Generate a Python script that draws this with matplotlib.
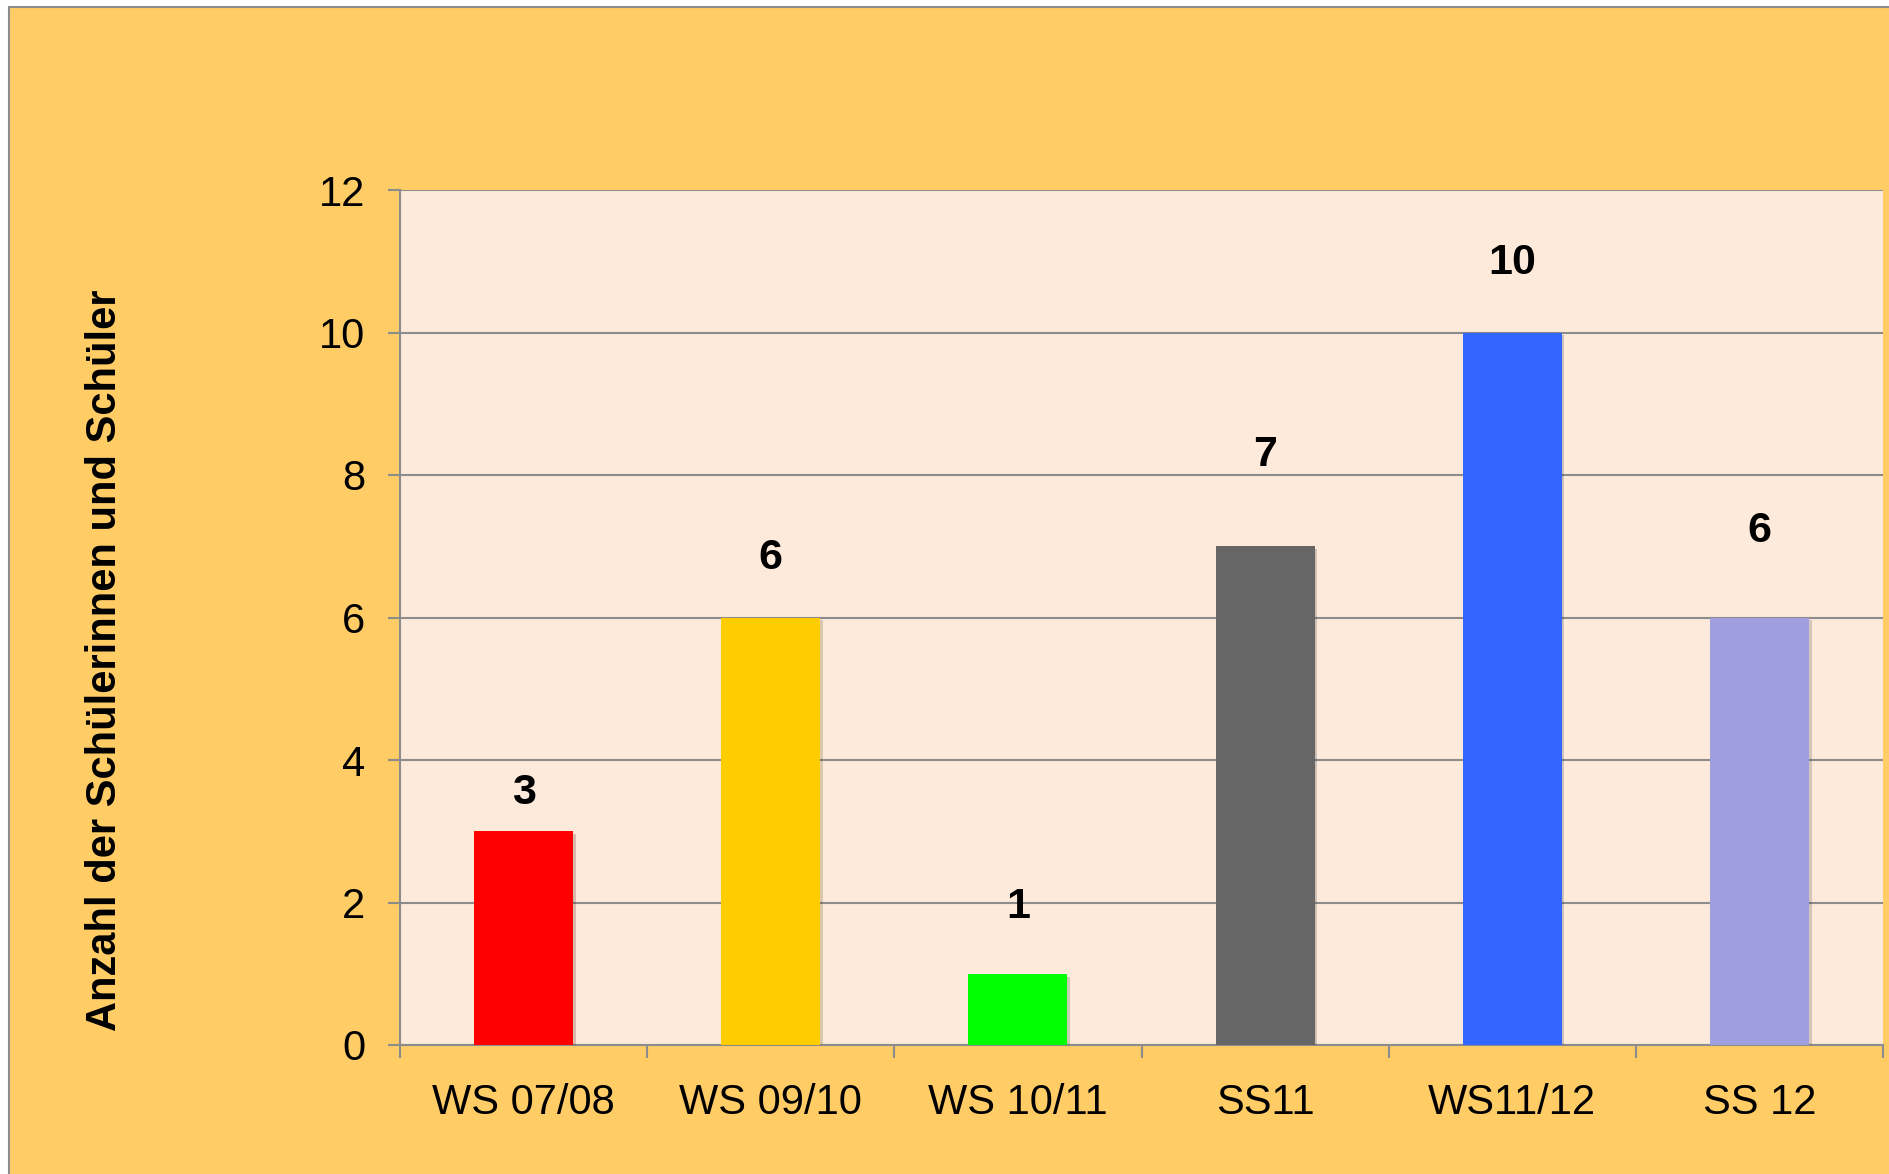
import numpy as np
import matplotlib.pyplot as plt
from matplotlib.patches import Rectangle
import matplotlib.patheffects as pe

plt.rcParams['font.family'] = ['Liberation Sans', 'DejaVu Sans']

# Daten
semester = ["WS 07/08", "WS 09/10", "WS 10/11", "SS11", "WS11/12", "SS 12"]
anzahl = [3, 6, 1, 7, 10, 6]
farben = ["#FF0000", "#FFCC00", "#00FF00", "#666666", "#3366FF", "#9F9FDF"]
# Abstand der Beschriftung über dem Balken (in Datenwerten)
label_abstand = [0.54, 0.83, 0.94, 1.28, 0.98, 1.21]

fig = plt.figure(figsize=(18.89, 11.74), dpi=100, facecolor="white")
fig.patches.append(Rectangle((9 / 1889, -0.05), 1.0, 1.05 - 7 / 1174, transform=fig.transFigure,
                             facecolor="#FFCC66", edgecolor="#8C8C8C", linewidth=1.5,
                             zorder=-10))

ax = fig.add_axes([400 / 1889, 1 - 1045 / 1174, 1483 / 1889, 855 / 1174])
ax.set_facecolor("#FDEADA")

x = np.arange(len(semester))
bars = ax.bar(x, anzahl, width=0.4, color=farben, zorder=3)
for b in bars:
    b.set_path_effects([pe.SimplePatchShadow(offset=(2, -2), alpha=0.2), pe.Normal()])

for xi, wert, d in zip(x, anzahl, label_abstand):
    ax.text(xi, wert + d, str(wert), ha="center", va="center",
            fontsize=31, fontweight="bold", zorder=4)

ax.set_xlim(-0.5, len(semester) - 0.5)
ax.set_ylim(0, 12)
ax.set_yticks(range(0, 13, 2))
ax.yaxis.grid(True, color="#8C8C8C", linewidth=1.5, zorder=0)
ax.set_axisbelow(True)

ax.set_xticks(x)
ax.set_xticklabels(semester)
ax.set_xticks(np.arange(-0.5, len(semester)), minor=True)
ax.tick_params(axis="x", which="major", length=0, pad=27, labelsize=30)
ax.tick_params(axis="x", which="minor", length=9, width=1.5, color="#8C8C8C", direction="out")
ax.tick_params(axis="y", length=9, width=1.5, color="#8C8C8C", pad=16, labelsize=30)

for s in ["top", "right"]:
    ax.spines[s].set_visible(False)
for s in ["left", "bottom"]:
    ax.spines[s].set_color("#8C8C8C")
    ax.spines[s].set_linewidth(1.5)

fig.text(105 / 1889, 1 - 660 / 1174, "Anzahl der Schülerinnen und Schüler", rotation=90,
         ha="center", va="center", fontsize=30, fontweight="bold")

fig.savefig("out.png", dpi=100, facecolor=fig.get_facecolor())
